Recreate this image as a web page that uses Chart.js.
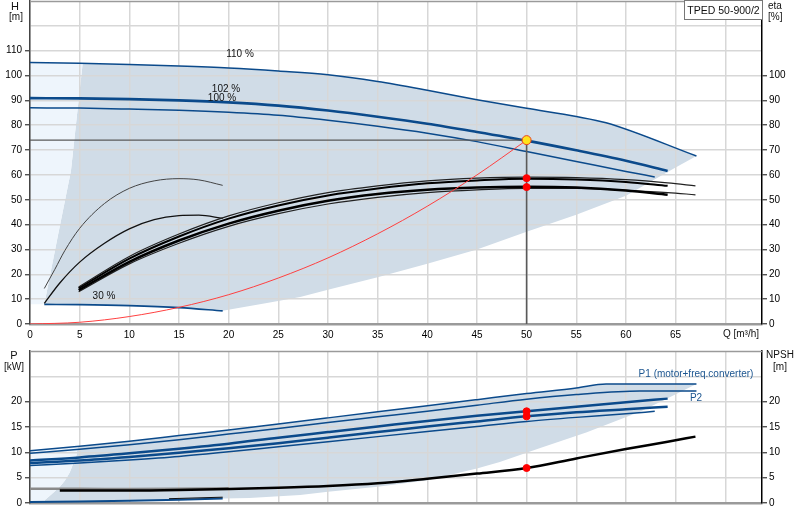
<!DOCTYPE html>
<html>
<head>
<meta charset="utf-8">
<script src="https://cdn.jsdelivr.net/npm/chart.js@4.4.0/dist/chart.umd.min.js"></script>
<style>
    body { margin: 0; background: #fff; font-family: "Liberation Sans", Arial, sans-serif; }
    #wrap { position: relative; width: 800px; height: 520px; overflow: hidden; }
    canvas { position: absolute; left: 0; }
    .t { position: absolute; font-size: 10px; line-height: 1; color: #111; white-space: nowrap; }
    .c { transform: translate(-50%, -50%); }
    .blue { color: #1d5690; }
    #model { position: absolute; left: 684px; top: 0; width: 77px; height: 18px; border: 1px solid #777;
             font-size: 10.5px; line-height: 18px; text-align: center; color: #111; background: #fff; }
</style>
</head>
<body>
<div id="wrap">
    <canvas id="qh" width="800" height="340" style="top:0"></canvas>
    <canvas id="pw" width="800" height="180" style="top:340px"></canvas>

    <div class="t c" style="left:15px;top:6px;font-size:11px">H</div>
    <div class="t c" style="left:16px;top:17px">[m]</div>
    <div class="t" style="left:768px;top:1px">eta</div>
    <div class="t" style="left:768px;top:12px">[%]</div>
    <div id="model">TPED 50-900/2</div>
    <div class="t c" style="left:741px;top:334px">Q [m³/h]</div>
    <div class="t c" style="left:240px;top:54px">110 %</div>
    <div class="t c" style="left:226px;top:89px">102 %</div>
    <div class="t c" style="left:222px;top:98px">100 %</div>
    <div class="t c" style="left:104px;top:296px">30 %</div>

    <div class="t c" style="left:14px;top:355px;font-size:11px">P</div>
    <div class="t c" style="left:14px;top:367px">[kW]</div>
    <div class="t c" style="left:780px;top:355px">NPSH</div>
    <div class="t c" style="left:780px;top:367px">[m]</div>
    <div class="t c blue" style="left:696px;top:374px">P1 (motor+freq.converter)</div>
    <div class="t c blue" style="left:696px;top:398px">P2</div>
</div>

<script>
// Q-H curves, [Q m3/h, H m]
const h110 = [[0,105.2],[5,104.9],[10,104.4],[15,103.8],[20,103],[25,101.8],[30,100.3],[35,97.6],[40,94.1],[45,90.3],[50,86.8],[55,83.5],[58,81],[67.1,67.6]];
const h102 = [[0,90.9],[5,90.8],[10,90.5],[15,90],[20,89.2],[25,87.9],[30,85.9],[35,83.4],[40,80.6],[45,77.3],[50,73.8],[55,69.9],[60,65.7],[64.2,61.6]];
const h100 = [[0,87],[5,86.9],[10,86.5],[15,86],[20,85.2],[25,84],[30,82],[35,79.6],[40,76.8],[45,73.4],[50,69.4],[55,65.4],[60,61.4],[62.9,59.2]];
const h30 = [[1.44,7.9],[5,7.8],[10,7.4],[15,6.6],[19.4,5.3]];

// system curve and duty point
const system = [[0,0],[5,0.7],[10,3],[15,6.7],[20,11.8],[25,18.5],[30,26.6],[35,36.3],[40,47.4],[45,60],[50,74]];
const dutyH = [[0,74],[50,74]];
const dutyQ = [[50,74],[50,0]];
const dutyPoint = [[50,74]];
const etaPoints = [[50,58.7],[50,55.1]];

// efficiency curves, [Q, eta %]
const etaU1 = [[4.9,14.9],[10,27.2],[15,36.2],[20,43.5],[25,48.8],[30,52.9],[35,55.6],[40,57.6],[45,58.7],[50,59.1],[55,58.9],[60,58.1],[64.2,56.8],[67,55.6]];
const etaU2 = [[4.9,14.4],[10,26.3],[15,35.2],[20,42.4],[25,47.7],[30,51.7],[35,54.5],[40,56.6],[45,57.8],[50,58.5],[55,58.2],[60,57.2],[64.2,55.6]];
const etaL1 = [[4.9,13.6],[10,25],[15,33.6],[20,40.4],[25,45.6],[30,49.6],[35,52.3],[40,54],[45,54.9],[50,55.2],[55,54.9],[60,53.7],[64.2,52]];
const etaL2 = [[4.9,13],[10,24.2],[15,32.5],[20,39.3],[25,44.4],[30,48.3],[35,51],[40,52.9],[45,54],[50,54.6],[55,54.6],[60,53.8],[64.2,52.9],[67,52]];
const etaLowA = [[1.44,14.3],[2.5,22],[3.5,29.5],[5,38.5],[7.5,48.5],[10,54.6],[12.5,57.6],[15,58.5],[17,58],[19.4,55.8]];
const etaLowB = [[1.44,8.3],[3,16.5],[5,24.9],[7.5,32.5],[10,38.3],[12.5,42],[15,43.6],[17,43.8],[19.4,42.5]];

// operating ranges (outlines)
const hAreaLight = [[0,105.2],[5.3,104.8],[4.7,83],[4.12,61.6],[2.78,35],[1.44,7.9],[0,7.9]];
const hAreaDark = [[5.3,104.8],[10,104.4],[15,103.8],[20,103],[25,101.8],[30,100.3],[35,97.6],[40,94.1],[45,90.3],[50,86.8],[55,83.5],[58,81],[67.1,67.6],
    [65,63],[60,51.6],[55,44],[50,37.1],[45,30],[40,24.2],[35,18.8],[30,13.8],[27.2,10.9],[24,8.6],[19.4,5.3],
    [15,6.6],[10,7.4],[5,7.8],[1.44,7.9],[2.78,35],[4.12,61.6],[4.7,83]];

// power curves, [Q, P kW]
const p1High = [[0,10.3],[5,11.2],[10,12.2],[15,13.3],[20,14.4],[25,15.6],[30,16.8],[35,18],[40,19.2],[45,20.4],[50,21.6],[55,22.7],[58,23.5],[67.1,23.5]];
const p2High = [[0,9.8],[5,10.6],[10,11.5],[15,12.5],[20,13.6],[25,14.7],[30,15.9],[35,17],[40,18.1],[45,19.3],[50,20.5],[55,21.4],[61.4,22.1],[67.1,22.1]];
const p1Mid = [[0,8.4],[5,9],[10,9.8],[15,10.7],[20,11.7],[25,12.9],[30,14],[35,15.1],[40,16.2],[45,17.2],[50,18.1],[55,19],[60,19.9],[64.2,20.6]];
const p2Mid = [[0,7.9],[5,8.4],[10,9.1],[15,9.9],[20,10.8],[25,11.8],[30,12.9],[35,14],[40,15.1],[45,16.1],[50,17.1],[55,17.9],[60,18.5],[64.2,19]];
const pLow = [[0,7.4],[5,7.9],[10,8.5],[15,9.2],[20,10.1],[25,11.1],[30,12.1],[35,13.1],[40,14.1],[45,15.1],[50,16.1],[55,16.9],[60,17.6],[62.9,18.1]];
const p30 = [[0,0.2],[5,0.3],[10,0.45],[15,0.65],[19.4,0.9]];
const p30b = [[14,0.85],[19.4,1.15]];
const pPoints = [[50,18.1],[50,17.1],[50,6.9]];

// NPSH, [Q, m]
const npsh = [[3,2.45],[10,2.45],[15,2.55],[20,2.75],[25,3],[30,3.35],[35,3.9],[40,4.8],[45,5.8],[50,6.9],[55,8.8],[60,10.65],[64.2,12.1],[67,13.1]];
const npshStart = [[0,2.8],[5,2.8],[10,2.75],[15,2.8],[20,2.9]];

const pAreaLight = [[0,10.3],[4.8,11.2],[4.7,9.5],[4.4,8],[4,6],[3.5,4.4],[3,3.2],[2.2,1.8],[1.5,0.6],[1.44,0.25],[0,0.2]];
const pAreaDark = [[4.8,11.2],[10,12.2],[15,13.3],[20,14.4],[25,15.6],[30,16.8],[35,18],[40,19.2],[45,20.4],[50,21.6],[55,22.7],[58,23.5],[67.1,23.5],
    [64,20.5],[61.4,18],[56,13.9],[51.3,10.8],[47.3,8.1],[45,6.8],[40,4.5],[35,3.2],[30,2.2],[27.2,1.6],[22.1,1],[19.4,0.9],
    [15,0.65],[10,0.45],[5,0.3],[1.44,0.25],[1.5,0.6],[2.2,1.8],[3,3.2],[3.5,4.4],[4,6],[4.4,8],[4.7,9.5]];

const Q_MAX = 73.7;
const BLUE = '#0b4a8b';
const GRID = '#d7d7d7';
const FONT = { family: 'Liberation Sans', size: 10 };

const pts = arr => arr.map(p => ({ x: p[0], y: p[1] }));

function curve(data, color, width, smooth = true) {
    return {
        data: pts(data), showLine: true, borderColor: color, borderWidth: width,
        pointRadius: 0, fill: false, cubicInterpolationMode: smooth ? 'monotone' : 'default', tension: 0
    };
}

function area(data, color) {
    return { data: pts(data), showLine: true, borderWidth: 0, pointRadius: 0, backgroundColor: color, fill: 'shape', tension: 0 };
}

function dots(data, fillColor, edge, r) {
    return { data: pts(data), showLine: false, pointRadius: r, backgroundColor: fillColor, borderColor: edge, borderWidth: 1 };
}

// Axis helpers
function xAxis(height, showLabels) {
    return {
        type: 'linear', min: 0, max: Q_MAX,
        ticks: { stepSize: 5, color: '#000', font: FONT, padding: 5, display: showLabels, maxRotation: 0,
                 callback: v => (v <= 65 ? v : (v >= Q_MAX ? null : '')) },
        grid: { color: GRID, lineWidth: 1.5, drawTicks: false },
        border: { color: '#9a9a9a', width: 2.5 },
        afterFit: s => { s.height = height; s.paddingLeft = 0; s.paddingRight = 0; }
    };
}

// labels above lastLabel are hidden; the top tick gets no label box at all
function yAxis(max, step, lastLabel, right) {
    return {
        type: 'linear', position: right ? 'right' : 'left', min: 0, max: max,
        ticks: { stepSize: step, color: '#000', font: FONT, padding: right ? 2 : 3,
                 callback: v => (v <= lastLabel ? v : (v >= max ? null : '')) },
        grid: {
            color: GRID, lineWidth: 1.5, drawOnChartArea: !right, tickLength: 5, tickWidth: 1.2,
            tickColor: ctx => (ctx.tick && ctx.tick.value > lastLabel ? 'rgba(0,0,0,0)' : '#333')
        },
        border: { color: right ? '#000' : '#444', width: 1.5 },
        afterFit: s => { s.width = right ? 38 : 30; s.paddingTop = 0; s.paddingBottom = 0; }
    };
}

const topLine = {
    id: 'topLine',
    afterDraw(chart) {
        const { ctx, chartArea: a } = chart;
        ctx.save();
        ctx.strokeStyle = '#9a9a9a';
        ctx.lineWidth = 1.5;
        ctx.beginPath();
        ctx.moveTo(a.left, a.top + 0.5);
        ctx.lineTo(a.right, a.top + 0.5);
        ctx.stroke();
        ctx.restore();
    }
};

const common = {
    responsive: false,
    animation: false,
    events: [],
    plugins: { legend: { display: false }, tooltip: { enabled: false }, filler: { drawTime: 'beforeDraw' } }
};

// Q-H / eta chart
new Chart(document.getElementById('qh'), {
    type: 'scatter',
    data: {
        datasets: [
            dots(dutyPoint, '#ffe21a', '#e8401c', 4.5),
            dots(etaPoints, '#ff0000', '#ff0000', 3.5),
            curve(system, '#ff4040', 1),
            curve(dutyH, '#5a5a5a', 1.3, false),
            curve(dutyQ, '#5a5a5a', 1.6, false),
            curve(etaU1, '#222', 1.2),
            curve(etaU2, '#000', 2),
            curve(etaL1, '#000', 2.5),
            curve(etaL2, '#222', 1.2),
            curve(etaLowA, '#444', 1),
            curve(etaLowB, '#111', 1.3),
            curve(h110, BLUE, 1.5),
            curve(h102, BLUE, 2.6),
            curve(h100, BLUE, 1.5),
            curve(h30, BLUE, 1.6),
            area(hAreaLight, '#eef5fc'),
            area(hAreaDark, '#d0dce7')
        ]
    },
    options: Object.assign({}, common, {
        layout: { autoPadding: false, padding: { top: 1, left: 0, right: 0, bottom: 0 } },
        scales: {
            x: xAxis(16, true),
            y: yAxis(130, 10, 110, false),
            y2: yAxis(130, 10, 100, true)
        }
    }),
    plugins: [topLine]
});

// Power / NPSH chart
new Chart(document.getElementById('pw'), {
    type: 'scatter',
    data: {
        datasets: [
            dots(pPoints, '#ff0000', '#ff0000', 3.5),
            curve(npsh, '#000', 2.5),
            curve(npshStart, '#8a8a8a', 2.5),
            curve(p30b, '#111', 1, false),
            curve(p30, BLUE, 2, false),
            curve(p1High, BLUE, 1.5),
            curve(p2High, BLUE, 1.5),
            curve(p1Mid, BLUE, 2.5),
            curve(p2Mid, BLUE, 2.5),
            curve(pLow, BLUE, 1.5),
            area(pAreaLight, '#eef5fc'),
            area(pAreaDark, '#d0dce7')
        ]
    },
    options: Object.assign({}, common, {
        layout: { autoPadding: false, padding: { top: 11, left: 0, right: 0, bottom: 0 } },
        scales: {
            x: xAxis(17, false),
            y: yAxis(30, 5, 20, false),
            y2: yAxis(30, 5, 20, true)
        }
    }),
    plugins: [topLine]
});
</script>
</body>
</html>
